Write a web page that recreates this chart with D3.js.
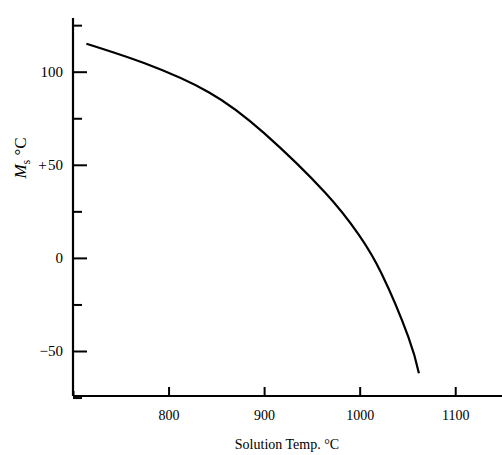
<!DOCTYPE html>
<html>
<head>
<meta charset="utf-8">
<script src="https://cdn.jsdelivr.net/npm/d3@7"></script>
<style>
  body { margin: 0; background: #fff; }
  text { font-family: "Liberation Serif", "DejaVu Serif", serif; fill: #000; }
</style>
</head>
<body>
<svg id="chart" width="502" height="455"></svg>
<script>

// solution temperature (°C) vs Ms (°C)
let temps = [714, 775, 842, 900, 964, 999, 1023, 1051, 1062];
let msValues = [115, 104.5, 89, 67, 35, 12.5, -8.5, -42.5, -62];

let xTicks = [700, 800, 900, 1000, 1100];
let xLabels = ["", "800", "900", "1000", "1100"];
let yTicks = [-75, -50, -25, 0, 25, 50, 75, 100, 125];
let yLabels = ["", "\u221250", "", "0", "", "+\u200a50", "", "100", ""];

let svg = d3.select("svg#chart");
let originX = 73;
let originY = 396;

let xScale = d3.scaleLinear().domain([700, 1150]).range([originX, originX + 430]);
let yScale = d3.scaleLinear().domain([-50, 100]).range([351, 71.7]);

// y axis, ticks pointing inward
let yAxis = d3.axisLeft(yScale)
  .tickValues(yTicks)
  .tickSizeInner(-14)
  .tickSizeOuter(0)
  .tickPadding(10)
  .tickFormat((d, i) => yLabels[i]);

let gy = svg.append("g")
  .attr("transform", "translate(" + originX + ",0)")
  .call(yAxis);
gy.select(".domain").remove();
gy.selectAll(".tick line")
  .attr("stroke-width", 2)
  .attr("x2", d => (d % 50 == 0 && d > -75 ? 14 : 9));
gy.selectAll(".tick text")
  .attr("font-size", 15);

svg.append("line")
  .attr("x1", originX).attr("y1", 18)
  .attr("x2", originX).attr("y2", originY)
  .attr("stroke", "#000").attr("stroke-width", 2.2);

// x axis
let xAxis = d3.axisBottom(xScale)
  .tickValues(xTicks)
  .tickSizeInner(-9)
  .tickSizeOuter(0)
  .tickPadding(14)
  .tickFormat((d, i) => xLabels[i]);

let gx = svg.append("g")
  .attr("transform", "translate(0," + originY + ")")
  .call(xAxis);
gx.select(".domain").remove();
gx.selectAll(".tick line")
  .attr("stroke-width", 2)
  .attr("y2", d => (d == 700 ? -5 : -9));
gx.selectAll(".tick text")
  .attr("font-size", 14);

svg.append("line")
  .attr("x1", originX).attr("y1", originY)
  .attr("x2", 502).attr("y2", originY)
  .attr("stroke", "#000").attr("stroke-width", 2.2);

// curve
let line = d3.line()
  .x((d, i) => xScale(temps[i]))
  .y(d => yScale(d))
  .curve(d3.curveNatural);

svg.append("path")
  .datum(msValues)
  .attr("d", line)
  .attr("fill", "none")
  .attr("stroke", "#000")
  .attr("stroke-width", 2.2);

// axis titles
svg.append("text")
  .attr("x", 287)
  .attr("y", 449)
  .attr("text-anchor", "middle")
  .attr("font-size", 14)
  .text("Solution Temp. \u00b0C");

let ylab = svg.append("text")
  .attr("transform", "translate(26,158) rotate(-90)")
  .attr("text-anchor", "middle")
  .attr("font-size", 17);
ylab.append("tspan").attr("font-style", "italic").text("M");
ylab.append("tspan").attr("font-size", 12).attr("dy", 4).text("s");
ylab.append("tspan").attr("dy", -4).text("  \u00b0C");

</script>
</body>
</html>
